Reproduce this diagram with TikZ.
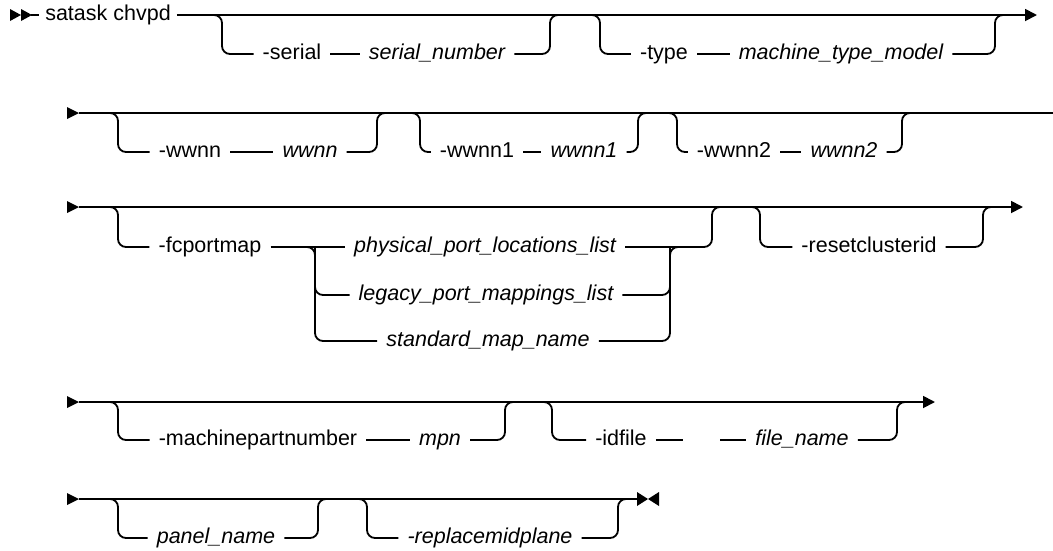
\documentclass[tikz,border=0pt]{standalone}
\usepackage{fontspec}
\setmainfont{Liberation Sans}
\usetikzlibrary{arrows.meta}

\begin{document}
\fontsize{21.5}{24}\selectfont
\begin{tikzpicture}[x=1pt, y=-1pt,
    every node/.style={anchor=mid, inner xsep=9pt, font=\fontsize{21.5}{24}\selectfont},
    var/.style={font=\fontsize{21.5}{24}\selectfont\itshape},
    rail/.style={line width=1.8pt, rounded corners=8pt},
    tip/.style={-{Triangle[length=12pt,width=12pt]}}]
\useasboundingbox (0,0) rectangle (1053,550);

% row 1
\fill (10,9) -- (21,15) -- (10,21) -- cycle;
\fill (21,9) -- (32,15) -- (21,21) -- cycle;
\coordinate (start) at (31,15);
\coordinate (end1) at (1037,15);
\node[inner xsep=6pt] (cmd) at (108,15) {satask chvpd};
\node (serial) at (292,54) {-serial};
\node[var] (serialnum) at (437,54) {serial\_number};
\node (type) at (664,54) {-type};
\node[var] (mtm) at (841,54) {machine\_type\_model};
\coordinate (ser-in) at (222,15);
\coordinate (ser-out) at (550,15);
\coordinate (type-in) at (600,15);
\coordinate (type-out) at (995,15);
\draw[rail] (start) -- (cmd.mid west);
\draw[rail, tip] (cmd.mid east) -- (end1);
\draw[rail] ([xshift=-14pt]ser-in) -- (ser-in) -- (ser-in |- serial.mid west) -- (serial.mid west);
\draw[rail] (serial.mid east) -- (serialnum.mid west);
\draw[rail] (serialnum.mid east) -- (ser-out |- serialnum.mid east) -- (ser-out) -- ([xshift=14pt]ser-out);
\draw[rail] ([xshift=-14pt]type-in) -- (type-in) -- (type-in |- type.mid west) -- (type.mid west);
\draw[rail] (type.mid east) -- (mtm.mid west);
\draw[rail] (mtm.mid east) -- (type-out |- mtm.mid east) -- (type-out) -- ([xshift=14pt]type-out);

% row 2
\coordinate (r2-start) at (79,113);
\coordinate (r2-end) at (1053,113);
\node (wwnn) at (190,152) {-wwnn};
\node[var] (wwnnval) at (310,152) {wwnn};
\node (wwnn1) at (477,152) {-wwnn1};
\node[var] (wwnn1val) at (584,152) {wwnn1};
\node (wwnn2) at (734,152) {-wwnn2};
\node[var] (wwnn2val) at (844,152) {wwnn2};
\coordinate (ww-in) at (118,113);
\coordinate (ww-out) at (377,113);
\coordinate (ww1-in) at (420,113);
\coordinate (ww1-out) at (638,113);
\coordinate (ww2-in) at (677,113);
\coordinate (ww2-out) at (902,113);
\draw[rail] (r2-start) -- (r2-end);
\draw[rail] ([xshift=-14pt]ww-in) -- (ww-in) -- (ww-in |- wwnn.mid west) -- (wwnn.mid west);
\draw[rail] (wwnn.mid east) -- (wwnnval.mid west);
\draw[rail] (wwnnval.mid east) -- (ww-out |- wwnnval.mid east) -- (ww-out) -- ([xshift=14pt]ww-out);
\draw[rail] ([xshift=-14pt]ww1-in) -- (ww1-in) -- (ww1-in |- wwnn1.mid west) -- (wwnn1.mid west);
\draw[rail] (wwnn1.mid east) -- (wwnn1val.mid west);
\draw[rail] (wwnn1val.mid east) -- (ww1-out |- wwnn1val.mid east) -- (ww1-out) -- ([xshift=14pt]ww1-out);
\draw[rail] ([xshift=-14pt]ww2-in) -- (ww2-in) -- (ww2-in |- wwnn2.mid west) -- (wwnn2.mid west);
\draw[rail] (wwnn2.mid east) -- (wwnn2val.mid west);
\draw[rail] (wwnn2val.mid east) -- (ww2-out |- wwnn2val.mid east) -- (ww2-out) -- ([xshift=14pt]ww2-out);

% row 3
\coordinate (r3-start) at (79,207);
\coordinate (end3) at (1023,207);
\node (fcportmap) at (210,247) {-fcportmap};
\node[var] (physical) at (485,247) {physical\_port\_locations\_list};
\node[var] (legacy) at (486,295) {legacy\_port\_mappings\_list};
\node[var] (standard) at (488,341) {standard\_map\_name};
\node (reset) at (869,247) {-resetclusterid};
\coordinate (fc-in) at (118,207);
\coordinate (fc-out) at (712,207);
\coordinate (split) at (315,247);
\coordinate (merge) at (670,247);
\coordinate (rs-in) at (760,207);
\coordinate (rs-out) at (983,207);
\draw[rail, tip] (r3-start) -- (end3);
\draw[rail] ([xshift=-14pt]fc-in) -- (fc-in) -- (fc-in |- fcportmap.mid west) -- (fcportmap.mid west);
\draw[rail] (fcportmap.mid east) -- (physical.mid west);
\draw[rail] ([xshift=-16pt]split) -- (split) -- (split |- standard.mid west) -- (standard.mid west);
\draw[rail] (split) -- (split |- legacy.mid west) -- (legacy.mid west);
\draw[rail] (standard.mid east) -- (merge |- standard.mid east) -- (merge) -- ([xshift=16pt]merge);
\draw[rail] (legacy.mid east) -- (merge |- legacy.mid east) -- (merge);
\draw[rail] (physical.mid east) -- (fc-out |- physical.mid east) -- (fc-out) -- ([xshift=14pt]fc-out);
\draw[rail] ([xshift=-14pt]rs-in) -- (rs-in) -- (rs-in |- reset.mid west) -- (reset.mid west);
\draw[rail] (reset.mid east) -- (rs-out |- reset.mid east) -- (rs-out) -- ([xshift=14pt]rs-out);

% row 4
\coordinate (r4-start) at (79,402);
\coordinate (end4) at (935,402);
\node (mpnopt) at (258,440) {-machinepartnumber};
\node[var] (mpn) at (440,440) {mpn};
\node (idfile) at (621,440) {-idfile};
\node[var] (filename) at (802,440) {file\_name};
\coordinate (gap-l) at (683,440);
\coordinate (gap-r) at (720,440);
\coordinate (mp-in) at (118,402);
\coordinate (mp-out) at (505,402);
\coordinate (id-in) at (552,402);
\coordinate (id-out) at (897,402);
\draw[rail, tip] (r4-start) -- (end4);
\draw[rail] ([xshift=-14pt]mp-in) -- (mp-in) -- (mp-in |- mpnopt.mid west) -- (mpnopt.mid west);
\draw[rail] (mpnopt.mid east) -- (mpn.mid west);
\draw[rail] (mpn.mid east) -- (mp-out |- mpn.mid east) -- (mp-out) -- ([xshift=14pt]mp-out);
\draw[rail] ([xshift=-14pt]id-in) -- (id-in) -- (id-in |- idfile.mid west) -- (idfile.mid west);
\draw[rail] (idfile.mid east) -- (gap-l);
\draw[rail] (gap-r) -- (filename.mid west);
\draw[rail] (filename.mid east) -- (id-out |- filename.mid east) -- (id-out) -- ([xshift=14pt]id-out);

% row 5
\coordinate (r5-start) at (79,499);
\coordinate (end5) at (638,499);
\node[var] (panel) at (216,538) {panel\_name};
\node[var] (midplane) at (490,538) {-replacemidplane};
\coordinate (pn-in) at (118,499);
\coordinate (pn-out) at (318,499);
\coordinate (mid-in) at (367,499);
\coordinate (mid-out) at (618,499);
\draw[rail] (r5-start) -- (end5);
\draw[rail] ([xshift=-14pt]pn-in) -- (pn-in) -- (pn-in |- panel.mid west) -- (panel.mid west);
\draw[rail] (panel.mid east) -- (pn-out |- panel.mid east) -- (pn-out) -- ([xshift=14pt]pn-out);
\draw[rail] ([xshift=-14pt]mid-in) -- (mid-in) -- (mid-in |- midplane.mid west) -- (midplane.mid west);
\draw[rail] (midplane.mid east) -- (mid-out |- midplane.mid east) -- (mid-out) -- ([xshift=14pt]mid-out);
\fill (637,492) -- (648,499) -- (637,506) -- cycle;
\fill (659,492) -- (648,499) -- (659,506) -- cycle;

\foreach \r in {113,207,402,499}
  \fill (67,\r-6) -- (79,\r) -- (67,\r+6) -- cycle;
\end{tikzpicture}
\end{document}
